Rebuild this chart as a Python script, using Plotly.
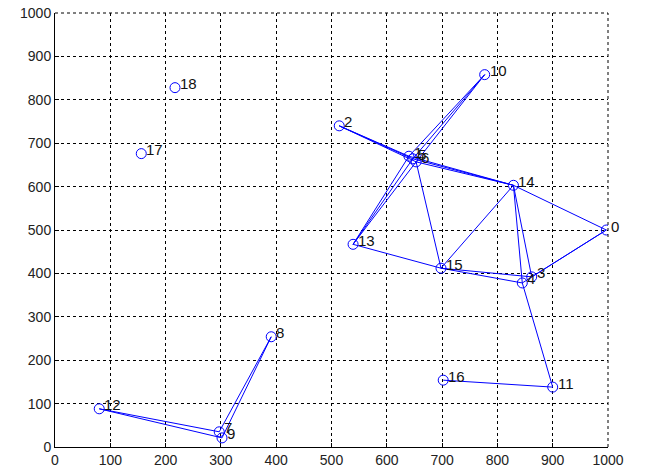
import plotly.graph_objects as go

node_ids = [0, 1, 2, 3, 4, 5, 6, 7, 8, 9, 10, 11, 12, 13, 14, 15, 16, 17, 18]
node_x = [997, 640, 514, 862, 845, 647, 653, 297, 391, 302, 777, 900, 80, 539, 829, 698, 702, 156, 217]
node_y = [500, 670, 740, 392, 378, 664, 657, 35, 254, 21, 858, 138, 88, 467, 603, 412, 154, 676, 828]

edge_from = [2, 2, 2, 10, 10, 10, 13, 13, 13, 1, 5, 6, 6, 13, 15, 15, 15, 14, 14, 14, 0, 0, 4, 16, 12, 12, 8, 8]
edge_to = [1, 5, 6, 1, 5, 6, 1, 5, 6, 14, 14, 14, 15, 15, 4, 3, 14, 4, 3, 0, 3, 4, 11, 11, 7, 9, 7, 9]

tick_vals = [0, 100, 200, 300, 400, 500, 600, 700, 800, 900, 1000]
tick_text = [str(v) for v in tick_vals]

ex, ey = [], []
for a, b in zip(edge_from, edge_to):
    ia, ib = node_ids.index(a), node_ids.index(b)
    ex += [node_x[ia], node_x[ib], None]
    ey += [node_y[ia], node_y[ib], None]

fig = go.Figure()
fig.add_trace(go.Scatter(x=ex, y=ey, mode="lines",
                         line=dict(color="#0000ff", width=1), hoverinfo="skip"))
fig.add_trace(go.Scatter(x=node_x, y=node_y, mode="markers",
                         marker=dict(symbol="circle-open", size=10, color="#0000ff",
                                     line=dict(width=1, color="#0000ff"))))

for nid, x, y in zip(node_ids, node_x, node_y):
    fig.add_annotation(x=x, y=y, text=str(nid), showarrow=False,
                       xanchor="left", yanchor="middle", xshift=3, yshift=4,
                       font=dict(family="Liberation Sans, Arial", size=15, color="#111111"))

axis_common = dict(range=[0, 1000], tickvals=tick_vals, ticktext=tick_text,
                   showgrid=True, gridcolor="#000000", griddash="3px,3px", gridwidth=1,
                   showline=True, linecolor="#000000", linewidth=1,
                   ticks="inside", ticklen=4, tickcolor="#000000",
                   zeroline=False, mirror=False, automargin=False,
                   tickfont=dict(family="Liberation Sans, Arial", size=14, color="#222222"))

fig.update_layout(
    width=646, height=472,
    margin=dict(l=55, r=38, t=13, b=25),
    paper_bgcolor="#ffffff", plot_bgcolor="#ffffff",
    showlegend=False,
    xaxis=dict(**axis_common),
    yaxis=dict(**axis_common),
)
# dashed top and right grid borders
fig.add_shape(type="line", xref="paper", yref="paper", x0=0, x1=1, y0=1, y1=1,
              line=dict(color="#000000", width=1, dash="3px,3px"))
fig.add_shape(type="line", xref="paper", yref="paper", x0=1, x1=1, y0=0, y1=1,
              line=dict(color="#000000", width=1, dash="3px,3px"))
fig.write_html("out.html")
